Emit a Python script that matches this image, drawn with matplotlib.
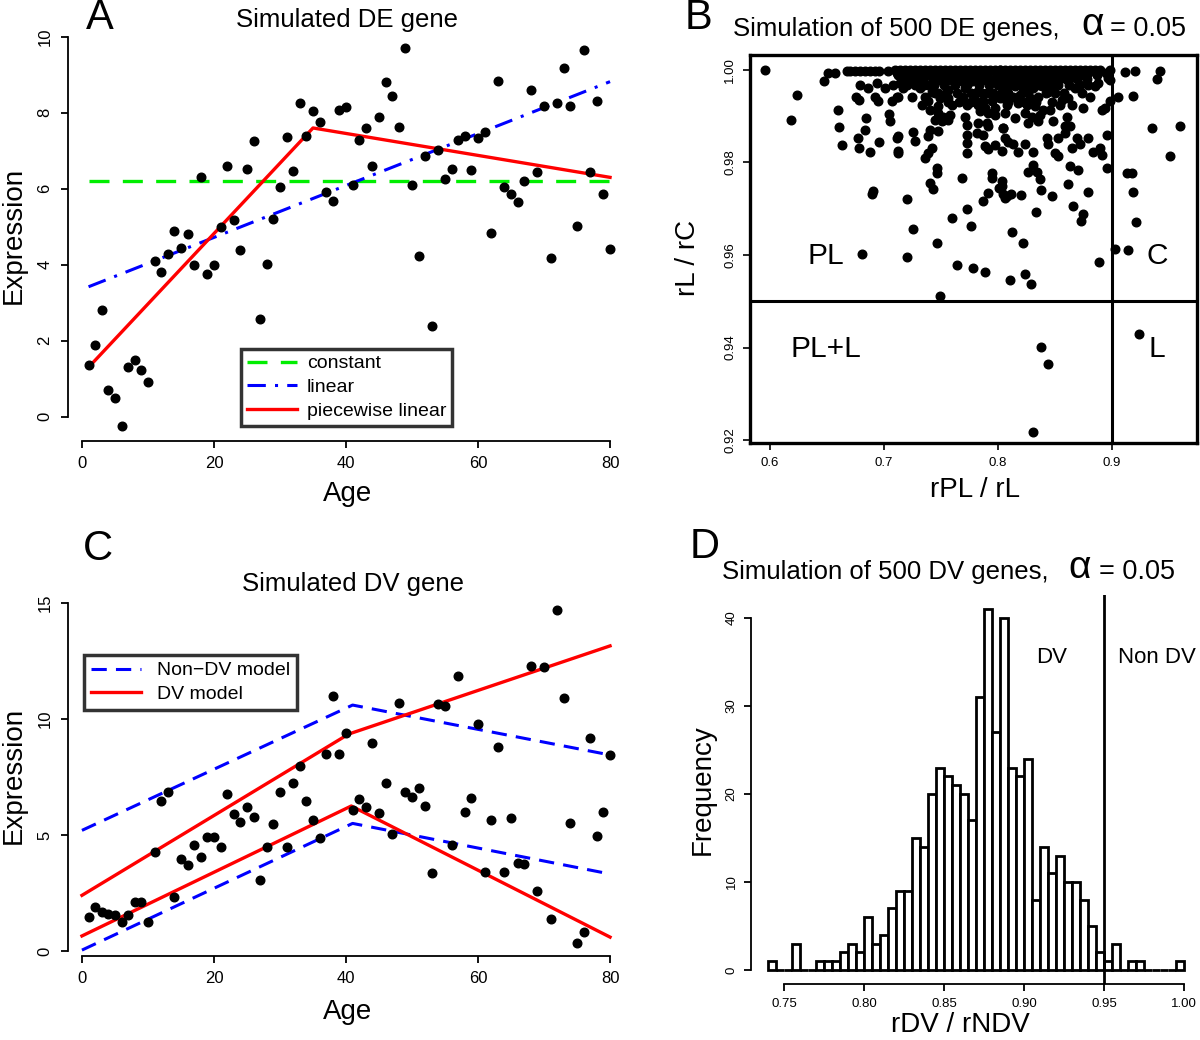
import numpy as np
import matplotlib
matplotlib.use("Agg")
import matplotlib.pyplot as plt

W, H = 1200, 1040
plt.rcParams['font.family'] = ['Liberation Sans', 'DejaVu Sans']

# ---- panel A: simulated DE gene ----
age = list(range(1, 81))
de_expr = [1.35, 1.9, 2.8, 0.71, 0.49, -0.24, 1.31, 1.5, 1.24, 0.91,
           4.1, 3.8, 4.29, 4.9, 4.44, 4.8, 4.0, 6.3, 3.75, 3.98,
           5.0, 6.6, 5.18, 4.38, 6.53, 7.25, 2.57, 4.03, 5.21, 6.04,
           7.36, 6.46, 8.25, 7.39, 8.05, 7.77, 5.91, 5.67, 8.08, 8.14,
           6.1, 7.29, 7.61, 6.6, 7.89, 8.82, 8.43, 7.62, 9.7, 6.1,
           4.24, 6.85, 2.4, 7.03, 6.26, 6.52, 7.29, 7.38, 6.5, 7.33,
           7.49, 4.83, 8.84, 6.04, 5.87, 5.64, 6.21, 8.59, 6.43, 8.18,
           4.19, 8.25, 9.17, 8.17, 5.03, 9.66, 6.44, 8.3, 5.87, 4.42]
const_x, const_y = [1, 80], [6.2, 6.2]
lin_x, lin_y = [1, 80], [3.42, 8.82]
pw_x, pw_y = [1, 35, 80], [1.3, 7.6, 6.3]

# ---- panel C: simulated DV gene ----
dv_expr = [1.45, 1.88, 1.7, 1.6, 1.55, 1.26, 1.55, 2.13, 2.1, 1.24,
           4.28, 6.48, 6.87, 2.31, 3.95, 3.71, 4.57, 4.04, 4.93, 4.9,
           4.47, 6.75, 5.89, 5.57, 6.22, 5.79, 3.06, 4.47, 5.47, 6.84,
           4.47, 7.26, 7.97, 6.48, 5.65, 4.86, 8.48, 10.99, 8.48, 9.38,
           6.08, 6.54, 6.22, 8.98, 5.93, 7.26, 5.04, 10.7, 6.87, 6.65,
           7.04, 6.26, 3.35, 10.65, 10.56, 4.57, 11.85, 6.0, 6.58, 9.78,
           3.39, 5.65, 8.78, 3.41, 5.75, 3.81, 3.76, 12.28, 2.6, 12.25,
           1.36, 14.7, 10.89, 5.52, 0.36, 0.83, 9.17, 4.96, 6.0, 8.45]
ndv_x = [0, 41, 80]
ndv_hi = [5.2, 10.6, 8.45]
ndv_lo = [0.04, 5.5, 3.32]
dv_x_hi, dv_hi = [0, 40.4, 80], [2.4, 9.35, 13.15]
dv_x_lo, dv_lo = [0, 40.8, 80], [0.65, 6.25, 0.6]

# ---- panel B: 500 simulated DE genes ----
rpl_rl = [
    0.5957, 0.6474, 0.6512, 0.6571, 0.6234, 0.6182,
    0.6673, 0.6702, 0.6746, 0.6790, 0.6834, 0.6878, 0.6921, 0.6960, 0.7038, 0.7112,
    0.6790, 0.6863, 0.6936, 0.7009, 0.7082, 0.6755, 0.6784, 0.6921, 0.6945, 0.7068,
    0.7112, 0.6600, 0.6843, 0.7047, 0.7053, 0.6606, 0.6834, 0.6775, 0.6960, 0.7112,
    0.6629, 0.6784, 0.6878, 0.7126,
    0.7096, 0.7140, 0.7184, 0.7228, 0.7271, 0.7315, 0.7359, 0.7403, 0.7447, 0.7491,
    0.7535, 0.7578, 0.7622, 0.7666, 0.7710, 0.7754, 0.7798, 0.7842, 0.7885, 0.7929,
    0.7973, 0.8017,
    0.7125, 0.7213, 0.7301, 0.7388, 0.7476, 0.7564, 0.7652, 0.7739, 0.7827, 0.7915, 0.8003,
    0.7140, 0.7228, 0.7315, 0.7388, 0.7476, 0.7578, 0.7681, 0.7769, 0.7856, 0.7944,
    0.8032, 0.7169, 0.7315, 0.7418, 0.7476, 0.7564, 0.7710, 0.7812, 0.7900, 0.7973,
    0.8032, 0.7125, 0.7242, 0.7359, 0.7491, 0.7564, 0.7695, 0.7798, 0.7871, 0.7944,
    0.8017, 0.7330, 0.7388, 0.7476, 0.7593, 0.7725, 0.7827, 0.7885, 0.7973, 0.7403,
    0.7476, 0.7520, 0.7578, 0.7447, 0.7505, 0.7564, 0.7710, 0.7842, 0.7915, 0.7973,
    0.7900, 0.7725, 0.7827, 0.7915, 0.8046, 0.7257, 0.7403, 0.7476, 0.7812, 0.7871,
    0.7725, 0.7271, 0.7388, 0.7125, 0.7418, 0.7388, 0.7725, 0.7725, 0.7885, 0.7915,
    0.7973, 0.8032, 0.7125, 0.7359, 0.7461, 0.7461, 0.7944,
    0.8018, 0.8062, 0.8106, 0.8150, 0.8193, 0.8237, 0.8281, 0.8325, 0.8369, 0.8413,
    0.8457, 0.8500, 0.8544, 0.8588, 0.8632, 0.8676, 0.8720, 0.8764, 0.8807, 0.8851,
    0.8895, 0.8983,
    0.8047, 0.8135, 0.8223, 0.8310, 0.8398, 0.8486, 0.8574, 0.8661, 0.8749, 0.8866,
    0.8047, 0.8135, 0.8223, 0.8310, 0.8398, 0.8471, 0.8544, 0.8661, 0.8968, 0.8062,
    0.8150, 0.8223, 0.8310, 0.8383, 0.8486, 0.8676, 0.8851, 0.8881, 0.8983, 0.8047,
    0.8135, 0.8193, 0.8281, 0.8354, 0.8442, 0.8559, 0.8617, 0.8734, 0.8807, 0.8076,
    0.8179, 0.8252, 0.8325, 0.8398, 0.8457, 0.8544, 0.8647, 0.8749, 0.8910, 0.8939,
    0.8983, 0.8062, 0.8150, 0.8237, 0.8296, 0.8369, 0.8486, 0.8603, 0.8588, 0.8047,
    0.8267, 0.8354, 0.8632, 0.8062, 0.8091, 0.8135, 0.8237, 0.8427, 0.8442, 0.8530,
    0.8588, 0.8690, 0.8720, 0.8793, 0.8954, 0.8179, 0.8310, 0.8500, 0.8530, 0.8647,
    0.8837, 0.8895, 0.8910, 0.8310, 0.8632, 0.8705, 0.8954, 0.8267, 0.8340,
    0.6901, 0.6892, 0.7205, 0.7404, 0.7427, 0.7688, 0.7945, 0.8038, 0.8033, 0.8012,
    0.7916, 0.7866, 0.8047, 0.8082, 0.8115, 0.8062, 0.8199, 0.8369, 0.8378, 0.8471,
    0.8611, 0.8793, 0.8655, 0.8743, 0.8728, 0.8331, 0.7726, 0.7600, 0.7764, 0.7258,
    0.8120, 0.8217, 0.7462, 0.6805, 0.7205, 0.7644, 0.7778, 0.7886, 0.8106, 0.8237,
    0.8287, 0.8889, 0.7492,
    0.8306, 0.8380, 0.8435,
    0.9115, 0.9202, 0.9421, 0.9392, 0.9056, 0.9188, 0.9348, 0.9597, 0.9509, 0.9129,
    0.9173, 0.9187, 0.9208, 0.9027, 0.9144, 0.9234,
    # dense band near 1.00
    0.7118, 0.7206, 0.7294, 0.7381, 0.7469, 0.7557, 0.7645, 0.7732, 0.7820, 0.7908,
    0.7996, 0.8084, 0.8171, 0.8259, 0.8347, 0.8435, 0.8522, 0.8610, 0.8698, 0.8786,
    0.8873, 0.8950,
    0.7160, 0.7250, 0.7340, 0.7430, 0.7520, 0.7610, 0.7700, 0.7790, 0.7880, 0.7970,
    0.8060, 0.8150, 0.8240, 0.8330, 0.8420, 0.8510, 0.8600, 0.8690, 0.8780,
    0.7200, 0.7270, 0.7350, 0.7440, 0.7530, 0.7620, 0.7730, 0.7830, 0.7920, 0.8000,
    0.8100, 0.8190, 0.8270, 0.8360, 0.8440, 0.8530, 0.8620, 0.8720, 0.8790,
    0.7450, 0.7540, 0.7640, 0.7760, 0.7860, 0.7960, 0.8090, 0.8260, 0.8420, 0.8500,
    0.8580,
    0.7560, 0.7660, 0.7760, 0.7870, 0.8090, 0.8230, 0.8330, 0.8470]
rl_rc = [
    0.9999, 0.9976, 0.9993, 0.9993, 0.9946, 0.9892,
    0.9998, 0.9998, 0.9998, 0.9998, 0.9998, 0.9998, 0.9998, 0.9998, 0.9998, 0.9998,
    0.9967, 0.9960, 0.9971, 0.9960, 0.9967, 0.9942, 0.9935, 0.9942, 0.9932, 0.9932,
    0.9942, 0.9914, 0.9896, 0.9904, 0.9889, 0.9876, 0.9871, 0.9853, 0.9844, 0.9853,
    0.9838, 0.9831, 0.9823, 0.9821,
    0.9999, 0.9999, 0.9999, 0.9999, 0.9999, 0.9999, 0.9999, 0.9999, 0.9999, 0.9999,
    0.9999, 0.9999, 0.9999, 0.9999, 0.9999, 0.9999, 0.9999, 0.9999, 0.9999, 0.9999,
    0.9999, 0.9999,
    0.9989, 0.9989, 0.9989, 0.9989, 0.9989, 0.9989, 0.9989, 0.9989, 0.9989, 0.9989, 0.9989,
    0.9971, 0.9982, 0.9975, 0.9967, 0.9978, 0.9978, 0.9975, 0.9975, 0.9978, 0.9975,
    0.9971, 0.9960, 0.9960, 0.9953, 0.9950, 0.9957, 0.9960, 0.9953, 0.9950, 0.9946,
    0.9953, 0.9942, 0.9942, 0.9942, 0.9939, 0.9939, 0.9942, 0.9935, 0.9932, 0.9932,
    0.9939, 0.9924, 0.9932, 0.9921, 0.9924, 0.9924, 0.9924, 0.9917, 0.9917, 0.9914,
    0.9907, 0.9899, 0.9903, 0.9892, 0.9889, 0.9892, 0.9899, 0.9910, 0.9907, 0.9903,
    0.9885, 0.9881, 0.9885, 0.9878, 0.9874, 0.9866, 0.9871, 0.9867, 0.9864, 0.9860,
    0.9860, 0.9846, 0.9856, 0.9856, 0.9831, 0.9821, 0.9842, 0.9821, 0.9835, 0.9828,
    0.9838, 0.9824, 0.9824, 0.9810, 0.9788, 0.9778, 0.9778,
    0.9999, 0.9999, 0.9999, 0.9999, 0.9999, 0.9999, 0.9999, 0.9999, 0.9999, 0.9999,
    0.9999, 0.9999, 0.9999, 0.9999, 0.9999, 0.9999, 0.9999, 0.9999, 0.9999, 0.9999,
    0.9999, 0.9999,
    0.9989, 0.9989, 0.9989, 0.9989, 0.9989, 0.9989, 0.9989, 0.9989, 0.9989, 0.9989,
    0.9982, 0.9978, 0.9982, 0.9975, 0.9982, 0.9978, 0.9982, 0.9985, 0.9982, 0.9960,
    0.9964, 0.9960, 0.9960, 0.9964, 0.9967, 0.9960, 0.9964, 0.9971, 0.9978, 0.9939,
    0.9942, 0.9946, 0.9939, 0.9942, 0.9953, 0.9935, 0.9939, 0.9950, 0.9942, 0.9924,
    0.9928, 0.9924, 0.9921, 0.9914, 0.9914, 0.9924, 0.9924, 0.9917, 0.9914, 0.9917,
    0.9932, 0.9907, 0.9896, 0.9907, 0.9899, 0.9903, 0.9889, 0.9899, 0.9878, 0.9874,
    0.9885, 0.9889, 0.9878, 0.9853, 0.9844, 0.9840, 0.9840, 0.9853, 0.9839, 0.9853,
    0.9864, 0.9853, 0.9839, 0.9853, 0.9860, 0.9823, 0.9823, 0.9821, 0.9813, 0.9831,
    0.9823, 0.9831, 0.9817, 0.9795, 0.9792, 0.9783, 0.9788, 0.9780, 0.9780,
    0.9738, 0.9731, 0.9722, 0.9756, 0.9743, 0.9767, 0.9767, 0.9760, 0.9749, 0.9745,
    0.9733, 0.9717, 0.9731, 0.9728, 0.9731, 0.9724, 0.9729, 0.9765, 0.9740, 0.9728,
    0.9753, 0.9736, 0.9706, 0.9688, 0.9674, 0.9692, 0.9699, 0.9681, 0.9662, 0.9657,
    0.9649, 0.9627, 0.9626, 0.9602, 0.9595, 0.9579, 0.9571, 0.9563, 0.9547, 0.9560,
    0.9538, 0.9584, 0.9512,
    0.9218, 0.9401, 0.9364,
    0.9996, 0.9998, 0.9998, 0.9980, 0.9942, 0.9944, 0.9874, 0.9878, 0.9813, 0.9778,
    0.9778, 0.9736, 0.9672, 0.9613, 0.9611, 0.9430,
    # dense band near 1.00
    0.9993, 0.9993, 0.9993, 0.9993, 0.9993, 0.9993, 0.9993, 0.9993, 0.9993, 0.9993,
    0.9993, 0.9993, 0.9993, 0.9993, 0.9993, 0.9993, 0.9993, 0.9993, 0.9993, 0.9993,
    0.9993, 0.9993,
    0.9980, 0.9980, 0.9980, 0.9980, 0.9980, 0.9980, 0.9980, 0.9980, 0.9980, 0.9980,
    0.9980, 0.9980, 0.9980, 0.9980, 0.9980, 0.9980, 0.9980, 0.9980, 0.9980,
    0.9968, 0.9968, 0.9968, 0.9968, 0.9968, 0.9968, 0.9968, 0.9968, 0.9968, 0.9968,
    0.9968, 0.9968, 0.9968, 0.9968, 0.9968, 0.9968, 0.9968, 0.9968, 0.9968,
    0.9950, 0.9950, 0.9950, 0.9950, 0.9950, 0.9950, 0.9950, 0.9950, 0.9950, 0.9950,
    0.9950,
    0.9930, 0.9930, 0.9930, 0.9930, 0.9930, 0.9930, 0.9930, 0.9930]

# ---- panel D: histogram of rDV / rNDV (500 DV genes) ----
bin_start, bin_width = 0.74, 0.005
dv_counts = [1, 0, 0, 3, 0, 0, 1, 1, 1, 2,
             3, 2, 6, 3, 4, 7, 9, 9, 15, 14,
             20, 23, 22, 21, 20, 17, 31, 41, 27, 40,
             23, 22, 24, 8, 14, 11, 13, 10, 10, 8,
             5, 2, 1, 3, 0, 1, 1, 0, 0, 0,
             0, 1]

fig = plt.figure(figsize=(W / 100, H / 100), dpi=100)


def px_axes(l, t, r, b):
    return fig.add_axes([l / W, 1 - b / H, (r - l) / W, (b - t) / H])


def ftext(x, y, s, **kw):
    kw.setdefault('ha', 'center')
    kw.setdefault('va', 'center')
    fig.text(x / W, 1 - y / H, s, **kw)


def r_axes(ax, xb, yb):
    # R style open axes: only left/bottom lines from first to last tick
    for side in ['top', 'right']:
        ax.spines[side].set_visible(False)
    ax.spines['left'].set_bounds(*yb)
    ax.spines['bottom'].set_bounds(*xb)
    for side in ['left', 'bottom']:
        ax.spines[side].set_linewidth(1.3)
    ax.tick_params(length=5, width=1.3, direction='out')


RED, BLUE, GREEN = '#FF0000', '#0000FF', '#00EE00'
MS = 6.2

# panel A
axA = px_axes(67.7, 33, 630.9, 441)
axA.set_xlim(-2.16, 83.16)
axA.set_ylim(-0.64, 10.1)
axA.plot(age, de_expr, 'o', color='black', ms=MS, zorder=3)
axA.plot(const_x, const_y, color=GREEN, lw=2.4, dashes=(6, 4), label='constant')
axA.plot(lin_x, lin_y, color=BLUE, lw=2.2, dashes=(6, 3, 1, 3), label='linear')
axA.plot(pw_x, pw_y, color=RED, lw=2.4, label='piecewise linear')
r_axes(axA, (0, 80), (0, 10))
axA.set_xticks([0, 20, 40, 60, 80])
axA.set_yticks([0, 2, 4, 6, 8, 10])
axA.set_yticklabels(['0', '2', '4', '6', '8', '10'], rotation=90, va='center')
axA.tick_params(labelsize=12, pad=6)
legA = axA.legend(loc='upper left', bbox_to_anchor=(0.3077, 0.2255), borderaxespad=0,
                  fancybox=False, edgecolor='black', fontsize=14, handlelength=2.6,
                  labelspacing=0.32, borderpad=0.3, handletextpad=0.5)
legA.get_frame().set_linewidth(2.5)

# panel C
axC = px_axes(67.7, 596.7, 630.9, 955.9)
axC.set_xlim(-2.16, 83.16)
axC.set_ylim(-0.21, 15.27)
axC.plot(age, dv_expr, 'o', color='black', ms=MS, zorder=3)
axC.plot(ndv_x, ndv_hi, color=BLUE, lw=2.2, dashes=(5, 3), label='Non\u2212DV model')
axC.plot(ndv_x, ndv_lo, color=BLUE, lw=2.2, dashes=(5, 3))
axC.plot(dv_x_hi, dv_hi, color=RED, lw=2.4, label='DV model')
axC.plot(dv_x_lo, dv_lo, color=RED, lw=2.4)
r_axes(axC, (0, 80), (0, 15))
axC.set_xticks([0, 20, 40, 60, 80])
axC.set_yticks([0, 5, 10, 15])
axC.set_yticklabels(['0', '5', '10', '15'], rotation=90, va='center')
axC.tick_params(labelsize=12, pad=6)
legC = axC.legend(loc='upper left', bbox_to_anchor=(0.029, 0.8377), borderaxespad=0,
                  fancybox=False, edgecolor='black', fontsize=14, handlelength=2.6,
                  labelspacing=0.3, borderpad=0.35, handletextpad=0.8)
legC.get_frame().set_linewidth(2.5)

# panel B
axB = px_axes(750, 55, 1197, 443)
axB.set_xlim(0.5825, 0.9746)
axB.set_ylim(0.9194, 1.0032)
axB.plot(rpl_rl, rl_rc, 'o', color='black', ms=MS)
axB.axvline(0.9, color='black', lw=2.2)
axB.axhline(0.95, color='black', lw=2.2)
for sp in axB.spines.values():
    sp.set_linewidth(2.4)
axB.set_xticks([0.6, 0.7, 0.8, 0.9])
axB.set_xticklabels(['0.6', '0.7', '0.8', '0.9'])
axB.set_yticks([0.92, 0.94, 0.96, 0.98, 1.00])
axB.set_yticklabels(['0.92', '0.94', '0.96', '0.98', '1.00'], rotation=90, va='center')
axB.tick_params(labelsize=9.5, length=5, width=1.2, pad=5)
for s, x, y in [('PL', 0.649, 0.9598), ('C', 0.9395, 0.9598),
                ('PL+L', 0.649, 0.9398), ('L', 0.9395, 0.9398)]:
    axB.text(x, y, s, fontsize=21.5, ha='center', va='center')

# panel D
axD = px_axes(751.4, 594.8, 1199.5, 984.4)
axD.set_xlim(0.7296, 1.0097)
axD.set_ylim(-1.64, 42.64)
edges = bin_start + bin_width * np.arange(len(dv_counts))
axD.bar(edges, dv_counts, width=bin_width, align='edge', facecolor='white',
        edgecolor='black', linewidth=2.0)
axD.axvline(0.95, color='black', lw=2.0)
r_axes(axD, (0.75, 1.0), (0, 40))
axD.set_xticks([0.75, 0.80, 0.85, 0.90, 0.95, 1.00])
axD.set_xticklabels(['0.75', '0.80', '0.85', '0.90', '0.95', '1.00'])
axD.set_yticks([0, 10, 20, 30, 40])
axD.set_yticklabels(['0', '10', '20', '30', '40'], rotation=90, va='center')
axD.tick_params(labelsize=9.5, pad=5)
axD.text(0.9175, 35.5, 'DV', fontsize=16, ha='center', va='center')
axD.text(0.983, 35.5, 'Non DV', fontsize=16, ha='center', va='center')

# axis labels
ftext(14, 235, 'Expression', fontsize=20, rotation=90)
ftext(348, 494, 'Age', fontsize=20)
ftext(14, 775, 'Expression', fontsize=20, rotation=90)
ftext(348, 1012, 'Age', fontsize=20)
ftext(688, 258, 'rL / rC', fontsize=20, rotation=90)
ftext(975, 490, 'rPL / rL', fontsize=20)
ftext(703, 790, 'Frequency', fontsize=20, rotation=90)
ftext(960, 1025, 'rDV / rNDV', fontsize=20)

# titles
ftext(347, 20, 'Simulated DE gene', fontsize=18.5)
ftext(353, 584, 'Simulated DV gene', fontsize=18.5)
ftext(733, 29, 'Simulation of 500 DE genes,', fontsize=18.5, ha='left')
ftext(1093, 25, '\u03b1', fontsize=28)
ftext(1110, 29, '= 0.05', fontsize=19.5, ha='left')
ftext(722, 572, 'Simulation of 500 DV genes,', fontsize=18.5, ha='left')
ftext(1080, 568, '\u03b1', fontsize=28)
ftext(1099, 572, '= 0.05', fontsize=19.5, ha='left')

# panel letters
for s, x, y in [('A', 100, 18), ('B', 698, 18), ('C', 98, 549), ('D', 705, 547)]:
    ftext(x, y, s, fontsize=30)

fig.savefig('out.png', dpi=100)
